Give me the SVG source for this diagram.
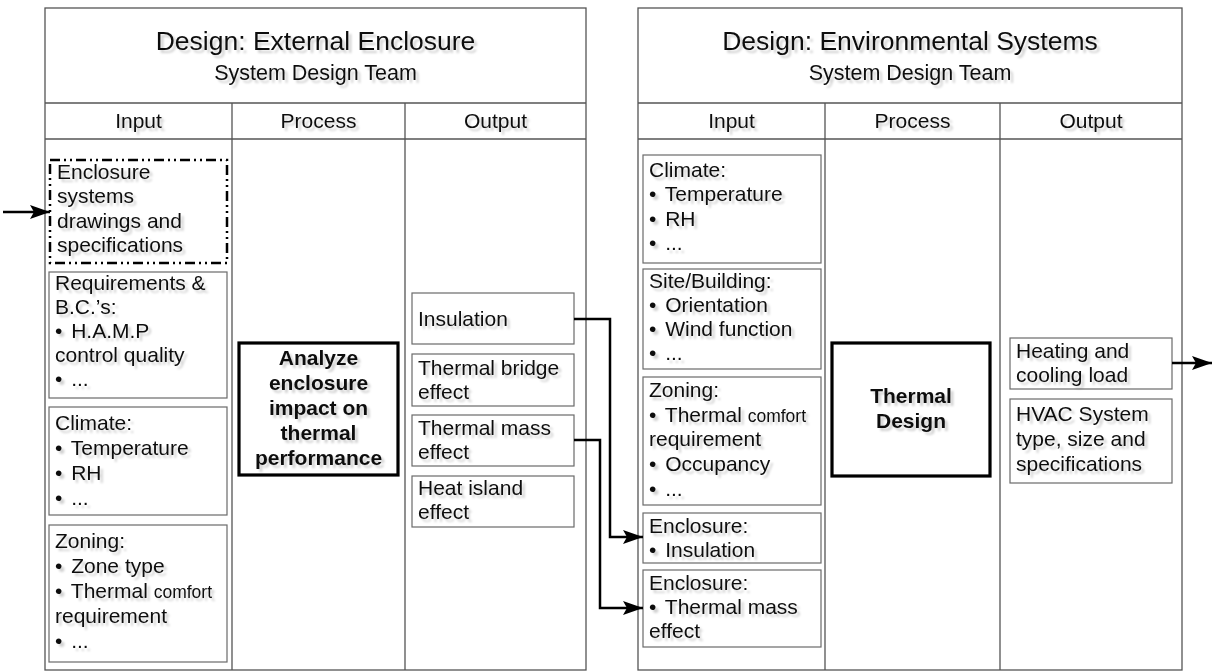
<svg xmlns="http://www.w3.org/2000/svg" width="1214" height="671" viewBox="0 0 1214 671">
<defs>
<filter id="sh" x="-5%" y="-20%" width="115%" height="160%">
<feDropShadow dx="3" dy="3" stdDeviation="1.3" flood-color="#000" flood-opacity="0.18"/>
</filter>
<marker id="arr" viewBox="0 0 20 14" refX="20" refY="7" markerWidth="20" markerHeight="14" markerUnits="userSpaceOnUse" orient="auto">
<path d="M0,0 L20,7 L0,14 L4,7 z" fill="#000"/>
</marker>
</defs>
<style>
.panel{fill:#fff;stroke:#555;stroke-width:1.3}
.ln{stroke:#555;stroke-width:1.3;fill:none}
.box{fill:#fff;stroke:#6a6a6a;stroke-width:1.2}
.proc{fill:#fff;stroke:#000;stroke-width:3.2}
.dash{fill:#fff;stroke:#000;stroke-width:2.5;stroke-dasharray:10 4 2 4 2 4}
text{font-family:"Liberation Sans",Arial,sans-serif;font-size:21px;fill:#111;filter:url(#sh)}
.title{font-size:26.5px;text-anchor:middle}
.sub{font-size:21.5px;text-anchor:middle}
.hdr{text-anchor:middle}
.b{font-weight:bold;text-anchor:middle}
.sm{font-size:17.5px}
.conn{fill:none;stroke:#000;stroke-width:2.5}
</style>

<g id="panel-left">
<rect class="panel" x="45" y="8" width="541" height="662"/>
<path class="ln" d="M45,103 H586 M45,139 H586 M232,103 V670 M405,103 V670"/>
<text class="title" x="315.5" y="50">Design: External Enclosure</text>
<text class="sub" x="315.5" y="80">System Design Team</text>
<text class="hdr" x="138.5" y="128">Input</text>
<text class="hdr" x="318.5" y="128">Process</text>
<text class="hdr" x="495.5" y="128">Output</text>
</g>

<g id="panel-right">
<rect class="panel" x="638" y="8" width="544" height="662"/>
<path class="ln" d="M638,103 H1182 M638,139 H1182 M825,103 V670 M1000,103 V670"/>
<text class="title" x="910" y="50">Design: Environmental Systems</text>
<text class="sub" x="910" y="80">System Design Team</text>
<text class="hdr" x="731.5" y="128">Input</text>
<text class="hdr" x="912.5" y="128">Process</text>
<text class="hdr" x="1091" y="128">Output</text>
</g>

<g id="l-in-enclosure">
<rect class="dash" x="50" y="160" width="177" height="103"/>
<text x="57" y="179">Enclosure</text>
<text x="57" y="203">systems</text>
<text x="57" y="228">drawings and</text>
<text x="57" y="252">specifications</text>
</g>

<g id="l-in-requirements">
<rect class="box" x="49" y="272" width="178" height="126"/>
<text x="55" y="290">Requirements &amp;</text>
<text x="55" y="314">B.C.’s:</text>
<text x="55" y="338">• <tspan dx="3">H.A.M.P</tspan></text>
<text x="55" y="362">control quality</text>
<text x="55" y="386">• <tspan dx="3">...</tspan></text>
</g>

<g id="l-in-climate">
<rect class="box" x="49" y="407" width="178" height="108"/>
<text x="55" y="430">Climate:</text>
<text x="55" y="455">• <tspan dx="3">Temperature</tspan></text>
<text x="55" y="480">• <tspan dx="3">RH</tspan></text>
<text x="55" y="505">• <tspan dx="3">...</tspan></text>
</g>

<g id="l-in-zoning">
<rect class="box" x="49" y="525" width="178" height="137"/>
<text x="55" y="548">Zoning:</text>
<text x="55" y="573">• <tspan dx="3">Zone type</tspan></text>
<text x="55" y="598">• <tspan dx="3">Thermal</tspan> <tspan class="sm">comfort</tspan></text>
<text x="55" y="623">requirement</text>
<text x="55" y="648">• <tspan dx="3">...</tspan></text>
</g>

<g id="l-process">
<rect class="proc" x="239" y="343" width="159" height="132"/>
<text class="b" x="318.5" y="365">Analyze</text>
<text class="b" x="318.5" y="390">enclosure</text>
<text class="b" x="318.5" y="415">impact on</text>
<text class="b" x="318.5" y="440">thermal</text>
<text class="b" x="318.5" y="465">performance</text>
</g>

<g id="l-out-insulation">
<rect class="box" x="412" y="293" width="162" height="51"/>
<text x="418" y="326">Insulation</text>
</g>
<g id="l-out-bridge">
<rect class="box" x="412" y="354" width="162" height="52"/>
<text x="418" y="375">Thermal bridge</text>
<text x="418" y="399">effect</text>
</g>
<g id="l-out-mass">
<rect class="box" x="412" y="415" width="162" height="51"/>
<text x="418" y="435">Thermal mass</text>
<text x="418" y="459">effect</text>
</g>
<g id="l-out-island">
<rect class="box" x="412" y="476" width="162" height="51"/>
<text x="418" y="495">Heat island</text>
<text x="418" y="519">effect</text>
</g>

<g id="r-in-climate">
<rect class="box" x="643" y="155" width="178" height="108"/>
<text x="649" y="177">Climate:</text>
<text x="649" y="201">• <tspan dx="3">Temperature</tspan></text>
<text x="649" y="226">• <tspan dx="3">RH</tspan></text>
<text x="649" y="250">• <tspan dx="3">...</tspan></text>
</g>
<g id="r-in-site">
<rect class="box" x="643" y="269" width="178" height="100"/>
<text x="649" y="288">Site/Building:</text>
<text x="649" y="312">• <tspan dx="3">Orientation</tspan></text>
<text x="649" y="336">• <tspan dx="3">Wind function</tspan></text>
<text x="649" y="360">• <tspan dx="3">...</tspan></text>
</g>
<g id="r-in-zoning">
<rect class="box" x="643" y="377" width="178" height="128"/>
<text x="649" y="397">Zoning:</text>
<text x="649" y="422">• <tspan dx="3">Thermal</tspan> <tspan class="sm">comfort</tspan></text>
<text x="649" y="446">requirement</text>
<text x="649" y="471">• <tspan dx="3">Occupancy</tspan></text>
<text x="649" y="496">• <tspan dx="3">...</tspan></text>
</g>
<g id="r-in-enc-insulation">
<rect class="box" x="643" y="513" width="178" height="50"/>
<text x="649" y="533">Enclosure:</text>
<text x="649" y="557">• <tspan dx="3">Insulation</tspan></text>
</g>
<g id="r-in-enc-mass">
<rect class="box" x="643" y="570" width="178" height="77"/>
<text x="649" y="590">Enclosure:</text>
<text x="649" y="614">• <tspan dx="3">Thermal mass</tspan></text>
<text x="649" y="638">effect</text>
</g>

<g id="r-process">
<rect class="proc" x="832" y="343" width="158" height="133"/>
<text class="b" x="911" y="403">Thermal</text>
<text class="b" x="911" y="428">Design</text>
</g>

<g id="r-out-load">
<rect class="box" x="1010" y="338" width="162" height="51"/>
<text x="1016" y="358">Heating and</text>
<text x="1016" y="382">cooling load</text>
</g>
<g id="r-out-hvac">
<rect class="box" x="1010" y="399" width="162" height="84"/>
<text x="1016" y="421">HVAC System</text>
<text x="1016" y="446">type, size and</text>
<text x="1016" y="471">specifications</text>
</g>

<g id="connectors">
<path class="conn" d="M3,212 H50" marker-end="url(#arr)"/>
<path class="conn" d="M574,319 H610 V537 H643" marker-end="url(#arr)"/>
<path class="conn" d="M574,440 H600 V608 H643" marker-end="url(#arr)"/>
<path class="conn" d="M1172,363 H1212" marker-end="url(#arr)"/>
</g>
</svg>
